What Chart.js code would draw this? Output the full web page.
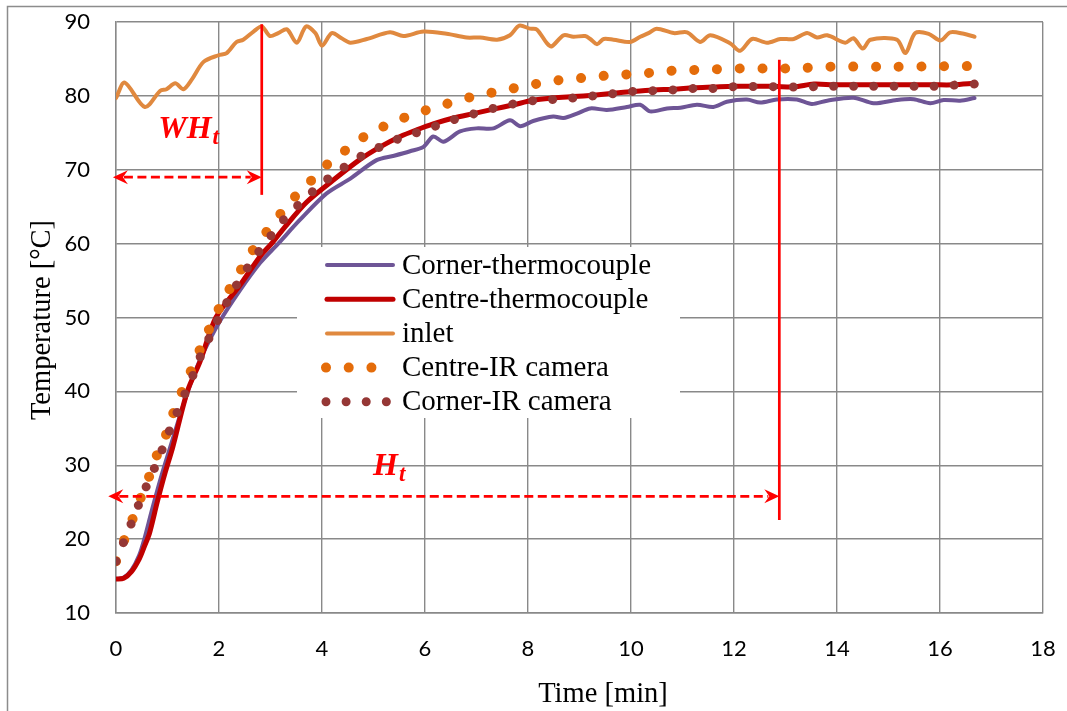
<!DOCTYPE html>
<html>
<head>
<meta charset="utf-8">
<script src="https://cdn.jsdelivr.net/npm/chart.js@4.4.1/dist/chart.umd.min.js"></script>
<style>
  html, body { margin: 0; padding: 0; background: #fff; }
  canvas { display: block; }
</style>
</head>
<body>
<canvas id="chart" width="1067" height="711"></canvas>
<script>
const xTicks = [0, 2, 4, 6, 8, 10, 12, 14, 16, 18];
const yTicks = [10, 20, 30, 40, 50, 60, 70, 80, 90];

const seriesNames = ['Corner-thermocouple', 'Centre-thermocouple', 'inlet', 'Centre-IR camera', 'Corner-IR camera'];

const cornerTcTime = [0, 0.15, 0.3, 0.45, 0.55, 0.7, 0.9, 1.1, 1.3, 1.5, 1.7, 2.0, 2.4, 2.8, 3.15, 3.57, 4.09, 4.55, 5.06, 5.4, 5.71, 5.97, 6.16, 6.36, 6.68, 7.0, 7.33, 7.65, 7.85, 8.1, 8.49, 8.69, 8.95, 9.21, 9.53, 9.92, 10.18, 10.37, 10.7, 10.96, 11.28, 11.6, 11.86, 12.25, 12.51, 12.83, 13.22, 13.51, 13.81, 14.32, 14.71, 15.16, 15.49, 15.81, 16.07, 16.39, 16.67];
const cornerTcTemp = [14.6, 14.8, 15.8, 17.8, 20.0, 24.0, 29.0, 33.5, 38.0, 42.0, 45.3, 49.3, 53.6, 57.4, 60.0, 63.2, 66.8, 68.8, 71.3, 71.9, 72.5, 73.1, 74.5, 73.8, 75.2, 75.6, 75.6, 76.7, 75.9, 76.6, 77.2, 77.0, 77.6, 78.3, 78.1, 78.5, 78.8, 77.9, 78.3, 78.4, 78.8, 78.5, 79.2, 79.5, 79.1, 79.5, 79.5, 78.9, 79.35, 79.75, 79.0, 79.45, 79.55, 79.0, 79.45, 79.35, 79.7];

const centreTcTime = [0, 0.15, 0.3, 0.45, 0.55, 0.65, 0.8, 0.95, 1.1, 1.385, 1.63, 1.94, 2.41, 2.8, 3.02, 3.25, 3.7, 4.22, 4.74, 5.13, 5.52, 5.84, 6.16, 6.55, 6.94, 7.33, 7.72, 8.1, 8.49, 8.88, 9.27, 9.66, 10.05, 10.44, 10.83, 11.21, 11.6, 11.99, 12.77, 13.16, 13.55, 13.93, 14.32, 15.09, 15.87, 16.26, 16.67];
const centreTcTemp = [14.6, 14.7, 15.6, 17.3, 19.0, 20.8, 25.0, 28.9, 32.4, 40.0, 44.0, 50.0, 54.4, 58.3, 60.0, 62.0, 65.6, 68.6, 71.4, 73.1, 74.5, 75.4, 76.2, 77.0, 77.6, 78.2, 78.8, 79.4, 79.7, 79.9, 80.1, 80.35, 80.6, 80.8, 80.9, 81.1, 81.2, 81.3, 81.3, 81.2, 81.6, 81.5, 81.5, 81.5, 81.5, 81.5, 81.7];

const inletTime = [0, 0.17, 0.56, 0.86, 0.98, 1.15, 1.31, 1.47, 1.70, 1.99, 2.15, 2.34, 2.47, 2.67, 2.83, 2.99, 3.15, 3.32, 3.51, 3.69, 3.87, 4.0, 4.19, 4.38, 4.55, 4.87, 5.32, 5.58, 5.97, 6.42, 6.81, 7.07, 7.4, 7.65, 7.83, 8.04, 8.17, 8.37, 8.46, 8.69, 8.88, 9.11, 9.21, 9.34, 9.47, 9.66, 9.98, 10.18, 10.34, 10.5, 10.83, 11.09, 11.34, 11.54, 11.93, 12.12, 12.35, 12.64, 12.9, 13.16, 13.42, 13.61, 13.81, 14.16, 14.32, 14.5, 14.65, 15.16, 15.33, 15.52, 15.78, 16.01, 16.2, 16.46, 16.67];
const inletTemp = [79.7, 81.8, 78.5, 80.7, 80.9, 81.7, 80.9, 82.2, 84.6, 85.5, 85.8, 87.3, 87.6, 88.7, 89.4, 88.1, 88.5, 89.0, 87.2, 89.4, 88.5, 86.8, 88.5, 87.8, 87.2, 87.7, 88.6, 88.1, 88.7, 88.4, 87.9, 87.9, 87.6, 88.2, 89.5, 89.1, 89.0, 87.1, 86.7, 88.2, 88.0, 88.1, 87.7, 87.0, 87.7, 87.6, 87.3, 88.0, 88.5, 89.1, 88.5, 88.6, 87.3, 88.2, 87.1, 86.1, 87.7, 87.2, 87.7, 87.7, 88.5, 87.9, 88.2, 87.2, 87.8, 86.4, 87.6, 87.6, 85.8, 88.5, 88.4, 87.5, 88.6, 88.4, 88.0];

const centreIrTime = [0, 0.16, 0.32, 0.48, 0.64, 0.79, 0.97, 1.11, 1.27, 1.45, 1.62, 1.80, 1.99, 2.2, 2.42, 2.65, 2.91, 3.19, 3.48, 3.77, 4.09, 4.43, 4.79, 5.18, 5.58, 5.99, 6.41, 6.84, 7.27, 7.70, 8.14, 8.57, 9.01, 9.45, 9.89, 10.33, 10.76, 11.2, 11.63, 12.09, 12.98, 13.4, 13.84, 15.16, 16.04, 16.93];
const centreIrTemp = [17.0, 19.9, 22.7, 25.6, 28.4, 31.3, 34.1, 37.0, 39.8, 42.7, 45.5, 48.3, 51.1, 53.8, 56.4, 59.05, 61.5, 64.0, 66.4, 68.4, 70.65, 72.5, 74.35, 75.8, 77.0, 78.0, 78.9, 79.75, 80.4, 81.0, 81.6, 82.1, 82.4, 82.7, 82.9, 83.1, 83.4, 83.5, 83.6, 83.7, 83.7, 83.8, 83.95, 83.95, 84.0, 84.05];

const cornerIrTime = [0, 0.14, 0.29, 0.43, 0.58, 0.74, 0.89, 1.04, 1.18, 1.34, 1.49, 1.63, 1.80, 1.97, 2.15, 2.34, 2.55, 2.77, 3.0, 3.25, 3.52, 3.81, 4.1, 4.42, 4.75, 5.1, 5.45, 5.83, 6.2, 6.57, 6.94, 7.32, 7.71, 8.1, 8.48, 8.87, 9.26, 9.65, 10.03, 10.42, 10.81, 11.2, 11.59, 11.98, 12.76, 13.15, 13.54, 13.93, 15.87, 16.26, 16.67];
const cornerIrTemp = [17.0, 19.45, 22.0, 24.5, 27.0, 29.5, 32.0, 34.7, 37.05, 39.7, 42.1, 44.6, 47.1, 49.6, 52.0, 54.4, 56.7, 58.9, 61.0, 63.2, 65.1, 67.0, 68.7, 70.3, 71.8, 73.0, 74.1, 75.0, 75.9, 76.8, 77.55, 78.3, 78.9, 79.35, 79.5, 79.7, 80.0, 80.3, 80.6, 80.7, 80.8, 81.0, 81.0, 81.25, 81.25, 81.2, 81.25, 81.3, 81.3, 81.45, 81.6];

// annotation marks, in axis units
const whLineX = 2.83, whLineY = [89.7, 66.6];
const whArrowX = [-0.06, 2.83], whArrowY = 69.0;
const whLabelAt = [0.82, 74.3];
const hLineX = 12.88, hLineY = [84.9, 22.6];
const hArrowX = [-0.15, 12.88], hArrowY = 25.8;
const hLabelAt = [4.99, 28.7];

const toPoints = (xs, ys) => xs.map((x, i) => ({ x: x, y: ys[i] }));

const styles = [
    { color: '#6E5596', width: 4, dash: [] },
    { color: '#C00000', width: 5, dash: [] },
    { color: '#E0893F', width: 4, dash: [] },
    { color: '#E46C0A', width: 10, dash: [0.01, 22.7] },
    { color: '#953735', width: 9, dash: [0.01, 20.1] }
];

const serif = '"Liberation Serif", "Times New Roman", serif';
const red = '#FF0000';

const drawArrowHead = (c, x, y, dir) => {
    c.beginPath();
    c.moveTo(x, y);
    c.lineTo(x - dir * 15, y - 7);
    c.lineTo(x - dir * 10, y);
    c.lineTo(x - dir * 15, y + 7);
    c.closePath();
    c.fill();
};

const drawArrow = (c, x1, x2, y) => {
    c.save();
    c.strokeStyle = red;
    c.fillStyle = red;
    c.lineWidth = 2.7;
    c.setLineDash([9, 4.5]);
    c.beginPath();
    c.moveTo(x1 + 11, y);
    c.lineTo(x2 - 11, y);
    c.stroke();
    c.setLineDash([]);
    drawArrowHead(c, x1, y, -1);
    drawArrowHead(c, x2, y, 1);
    c.restore();
};

const drawVLine = (c, x, y1, y2) => {
    c.save();
    c.strokeStyle = red;
    c.lineWidth = 2.7;
    c.beginPath();
    c.moveTo(x, y1);
    c.lineTo(x, y2);
    c.stroke();
    c.restore();
};

const drawSubLabel = (c, main, x, y) => {
    c.save();
    c.fillStyle = red;
    c.textBaseline = 'alphabetic';
    c.font = 'italic bold 32px ' + serif;
    c.fillText(main, x, y);
    const w = c.measureText(main).width;
    c.font = 'italic bold 23px ' + serif;
    c.fillText('t', x + w + 1, y + 6);
    c.restore();
};

const extras = {
    id: 'extras',
    beforeDraw(chart) {
        const c = chart.ctx;
        c.save();
        c.strokeStyle = '#8c8c8c';
        c.lineWidth = 1.5;
        c.strokeRect(7.5, 6.5, 1200, 900);
        c.restore();
    },
    afterDatasetsDraw(chart) {
        const c = chart.ctx;
        const xs = chart.scales.x, ys = chart.scales.y;
        const px = v => xs.getPixelForValue(v);
        const py = v => ys.getPixelForValue(v);

        // legend
        c.save();
        c.fillStyle = '#fff';
        c.fillRect(297, 247, 383, 171);
        seriesNames.forEach((name, i) => {
            const y = 265 + i * 34.2;
            const s = styles[i];
            c.strokeStyle = s.color;
            c.lineWidth = s.width;
            c.lineCap = 'round';
            c.setLineDash(s.dash);
            c.beginPath();
            if (s.dash.length) {
                c.moveTo(326, y);
                c.lineTo(390, y);
            } else {
                c.moveTo(327, y);
                c.lineTo(393, y);
            }
            c.stroke();
            c.setLineDash([]);
            c.fillStyle = '#000';
            c.font = '29px ' + serif;
            c.textBaseline = 'middle';
            c.fillText(name, 402, y + 1);
        });
        c.restore();

        // annotations
        drawVLine(c, px(whLineX), py(whLineY[0]), py(whLineY[1]));
        drawArrow(c, px(whArrowX[0]), px(whArrowX[1]), py(whArrowY));
        drawSubLabel(c, 'WH', px(whLabelAt[0]), py(whLabelAt[1]));
        drawVLine(c, px(hLineX), py(hLineY[0]), py(hLineY[1]));
        drawArrow(c, px(hArrowX[0]), px(hArrowX[1]), py(hArrowY));
        drawSubLabel(c, 'H', px(hLabelAt[0]), py(hLabelAt[1]));
    },
    afterDraw(chart) {
        const c = chart.ctx;
        c.save();
        c.fillStyle = '#000';
        c.font = '28.5px ' + serif;
        c.textAlign = 'center';
        c.textBaseline = 'alphabetic';
        c.fillText('Time [min]', 603, 702);
        c.translate(50, 320);
        c.rotate(-Math.PI / 2);
        c.fillText('Temperature [°C]', 0, 0);
        c.restore();
    }
};

const times = [cornerTcTime, centreTcTime, inletTime, centreIrTime, cornerIrTime];
const temps = [cornerTcTemp, centreTcTemp, inletTemp, centreIrTemp, cornerIrTemp];

const datasets = seriesNames.map((name, i) => ({
    label: name,
    data: toPoints(times[i], temps[i]),
    borderColor: styles[i].color,
    borderWidth: styles[i].width,
    borderDash: styles[i].dash,
    borderCapStyle: 'round',
    borderJoinStyle: 'round',
    pointRadius: 0,
    fill: false,
    tension: 0.3,
    order: seriesNames.length - i
}));

Chart.defaults.font.family = 'Lato, "Open Sans", sans-serif';
Chart.defaults.color = '#000';

const gridColor = '#898989';

const ctx = document.querySelector('#chart').getContext('2d');
const chart = new Chart(ctx, {
    type: 'line',
    data: { datasets: datasets },
    options: {
        responsive: false,
        animation: false,
        devicePixelRatio: 1,
        layout: { padding: { left: 0, right: 24, top: 22, bottom: 0 } },
        plugins: {
            legend: { display: false },
            tooltip: { enabled: false }
        },
        scales: {
            x: {
                type: 'linear',
                min: xTicks[0],
                max: xTicks[xTicks.length - 1],
                afterBuildTicks: s => { s.ticks = xTicks.map(v => ({ value: v })); },
                afterFit: s => {
                    s.height = 98;
                    s.paddingLeft = 0;
                    s.paddingRight = 0;
                },
                ticks: { font: { size: 22 }, padding: 23, maxRotation: 0 },
                grid: { color: gridColor, lineWidth: 1.4, drawTicks: false },
                border: { color: gridColor, width: 1.4 }
            },
            y: {
                type: 'linear',
                min: yTicks[0],
                max: yTicks[yTicks.length - 1],
                afterBuildTicks: s => { s.ticks = yTicks.map(v => ({ value: v })); },
                afterFit: s => {
                    s.width = 116;
                    s.paddingTop = 0;
                    s.paddingBottom = 0;
                },
                ticks: { font: { size: 22 }, padding: 26 },
                grid: { color: gridColor, lineWidth: 1.4, drawTicks: false },
                border: { color: gridColor, width: 1.4 }
            }
        }
    },
    plugins: [extras]
});
</script>
</body>
</html>
